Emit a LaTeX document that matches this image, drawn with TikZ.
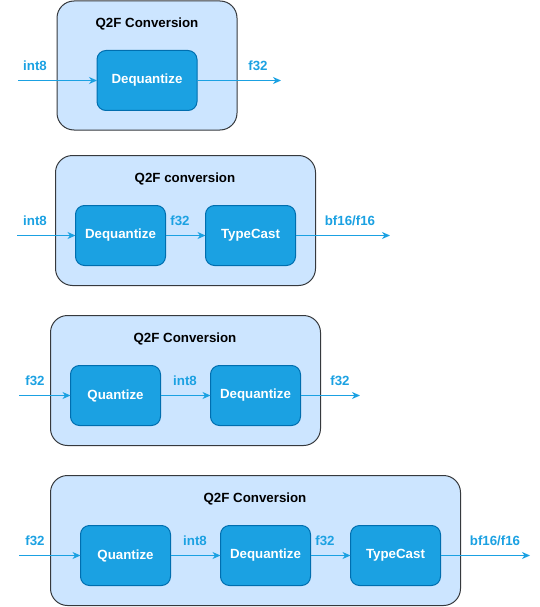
\documentclass[tikz,border=0pt]{standalone}
\usepackage{fontspec}
\setmainfont{Liberation Sans}
\usetikzlibrary{arrows.meta}
\definecolor{outerfill}{HTML}{CCE5FF}
\definecolor{outerdraw}{HTML}{36393D}
\definecolor{innerfill}{HTML}{1BA1E2}
\definecolor{innerdraw}{HTML}{006EAF}
\definecolor{lbl}{HTML}{1BA1E2}
\begin{document}
\begin{tikzpicture}[x=1pt,y=-1pt,
 outerbox/.style={draw=outerdraw, fill=outerfill, rounded corners=17pt, line width=1pt, inner sep=0pt, outer sep=0pt},
 opbox/.style={draw=innerdraw, fill=innerfill, rounded corners=9pt, line width=1pt, text=white, font=\bfseries\fontsize{13.3}{15}\selectfont, minimum width=90pt, minimum height=60pt, inner sep=0pt, outer sep=0pt},
 ttl/.style={font=\bfseries\fontsize{13.3}{15}\selectfont, text=black, inner sep=0pt},
 lab/.style={font=\bfseries\fontsize{13.3}{15}\selectfont, text=lbl, inner sep=0pt},
 flow/.style={draw=lbl, line width=1pt, -{Stealth[length=8pt,width=7pt,inset=2.5pt]}}]
\useasboundingbox (0,0) rectangle (540,607);

% ---- Block 1 ----
\node[outerbox, minimum width=180pt, minimum height=129pt] (g1) at (147,65.5) {};
\node[ttl] (t1) at (147,23.5) {Q2F Conversion};
\node[opbox, minimum width=100pt] (b1a) at (147,80.5) {Dequantize};
\coordinate (in1) at (18,80.5);
\coordinate (out1) at (281,80.5);
\draw[flow] (in1) -- (b1a.west);
\draw[flow] (b1a.east) -- (out1);
\node[lab] (l1a) at (35,65.5) {int8};
\node[lab] (l1b) at (258,65.5) {f32};

% ---- Block 2 ----
\node[outerbox, minimum width=260pt, minimum height=130pt] (g2) at (185.5,220.5) {};
\node[ttl] (t2) at (185,178.5) {Q2F conversion};
\node[opbox] (b2a) at (120.5,235.5) {Dequantize};
\node[opbox] (b2b) at (250.5,235.5) {TypeCast};
\coordinate (in2) at (17,235.5);
\coordinate (out2) at (390,235.5);
\draw[flow] (in2) -- (b2a.west);
\draw[flow] (b2a.east) -- (b2b.west);
\draw[flow] (b2b.east) -- (out2);
\node[lab] (l2a) at (35,220.5) {int8};
\node[lab] (l2b) at (180,220.5) {f32};
\node[lab] (l2c) at (350,220.5) {bf16/f16};

% ---- Block 3 ----
\node[outerbox, minimum width=270pt, minimum height=130pt] (g3) at (185.5,380.5) {};
\node[ttl] (t3) at (185,338.5) {Q2F Conversion};
\node[opbox] (b3a) at (115.5,395.5) {Quantize};
\node[opbox] (b3b) at (255.5,395.5) {Dequantize};
\coordinate (in3) at (19,395.5);
\coordinate (out3) at (360,395.5);
\draw[flow] (in3) -- (b3a.west);
\draw[flow] (b3a.east) -- (b3b.west);
\draw[flow] (b3b.east) -- (out3);
\node[lab] (l3a) at (35,380.5) {f32};
\node[lab] (l3b) at (185,380.5) {int8};
\node[lab] (l3c) at (340,380.5) {f32};

% ---- Block 4 ----
\node[outerbox, minimum width=410pt, minimum height=130pt] (g4) at (255.5,540.5) {};
\node[ttl] (t4) at (255,498.5) {Q2F Conversion};
\node[opbox] (b4a) at (125.5,555.5) {Quantize};
\node[opbox] (b4b) at (265.5,555.5) {Dequantize};
\node[opbox] (b4c) at (395.5,555.5) {TypeCast};
\coordinate (in4) at (19,555.5);
\coordinate (out4) at (530,555.5);
\draw[flow] (in4) -- (b4a.west);
\draw[flow] (b4a.east) -- (b4b.west);
\draw[flow] (b4b.east) -- (b4c.west);
\draw[flow] (b4c.east) -- (out4);
\node[lab] (l4a) at (35,540.5) {f32};
\node[lab] (l4b) at (195,540.5) {int8};
\node[lab] (l4c) at (325,540.5) {f32};
\node[lab] (l4d) at (495,540.5) {bf16/f16};
\end{tikzpicture}
\end{document}
